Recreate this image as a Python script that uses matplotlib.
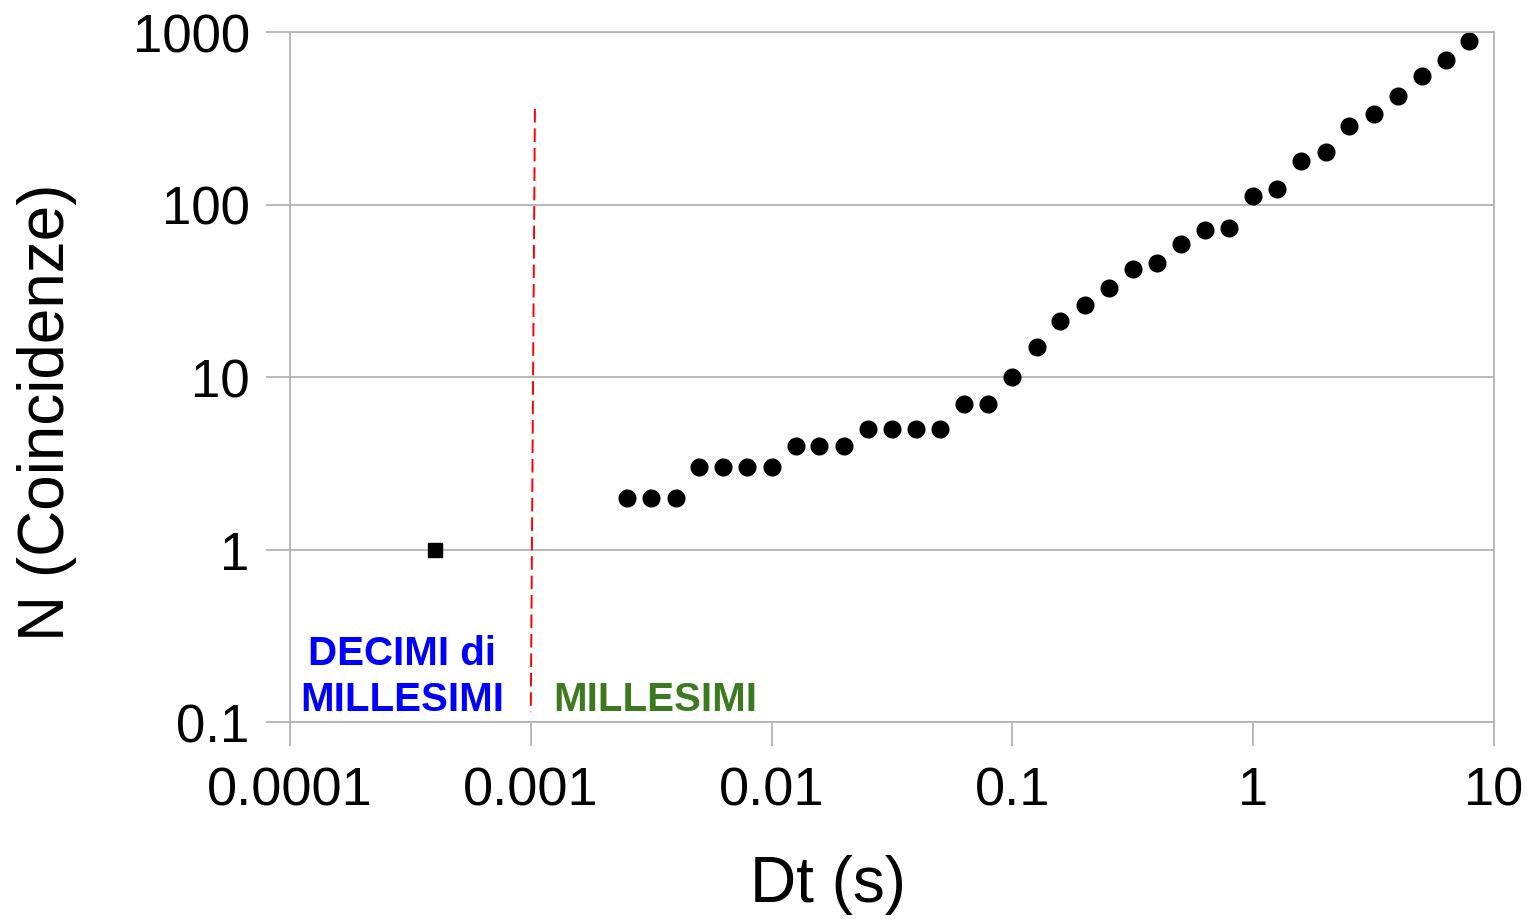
import matplotlib
matplotlib.use("Agg")
import matplotlib.pyplot as plt

# Dt (s) and cumulative coincidences
dt_values = [0.0004,
             0.0025, 0.00316, 0.004,
             0.005, 0.0063, 0.0079, 0.01,
             0.0126, 0.0158, 0.02,
             0.0251, 0.0316, 0.0398, 0.05,
             0.063, 0.079, 0.1,
             0.126, 0.158, 0.2, 0.251, 0.316, 0.398, 0.5, 0.63, 0.79,
             1.0, 1.26, 1.58, 2.0, 2.51, 3.16, 3.98, 5.0, 6.3, 7.9]
counts = [1,
          2, 2, 2,
          3, 3, 3, 3,
          4, 4, 4,
          5, 5, 5, 5,
          7, 7, 10,
          15, 21, 26, 33, 42, 46, 59, 71, 73,
          112, 123, 179, 201, 285, 335, 425, 556, 688, 887]

x_ticks = [0.0001, 0.001, 0.01, 0.1, 1, 10]
x_labels = ["0.0001", "0.001", "0.01", "0.1", "1", "10"]
y_ticks = [0.1, 1, 10, 100, 1000]
y_labels = ["0.1", "1", "10", "100", "1000"]

# separator between the two time resolutions
sep_x = [0.00104, 0.001]
sep_y = [358, 0.114]

plt.rcParams['font.family'] = ['Liberation Sans', 'DejaVu Sans']
grey = '#b3b3b3'

fig = plt.figure(figsize=(15.32, 9.2), dpi=100)
ax = fig.add_axes([290 / 1532, 1 - 723 / 920, 1204 / 1532, 690 / 920])
ax.set_xscale('log')
ax.set_yscale('log')
ax.set_xlim(0.0001, 10)
ax.set_ylim(0.1, 1000)

ax.grid(True, axis='y', color=grey, linewidth=1.3)
ax.set_axisbelow(True)
for s in ax.spines.values():
    s.set_color(grey)
    s.set_linewidth(1.3)

ax.plot(dt_values[:1], counts[:1], 's', color='black', markersize=10.5, clip_on=False)
ax.plot(dt_values[1:], counts[1:], 'o', color='black', markersize=12, clip_on=False)

ax.plot(sep_x, sep_y, color='#ff0000', linewidth=1.4, dashes=[7, 3])

ax.set_xticks(x_ticks)
ax.set_xticklabels(x_labels)
ax.set_yticks(y_ticks)
ax.set_yticklabels(y_labels)
ax.minorticks_off()
ax.tick_params(axis='both', which='major', direction='out', length=17, width=1.3,
               color=grey, labelcolor='black', pad=12)
ax.tick_params(axis='x', labelsize=39, pad=14)
ax.tick_params(axis='y', labelsize=38)

ax.set_xlabel("Dt (s)", fontsize=46)
ax.xaxis.set_label_coords(0.447, -0.192)
ax.set_ylabel("N (Coincidenze)", fontsize=46)
ax.yaxis.set_label_coords(-0.177, 0.45)

ax.text(0.000292, 0.1175, "DECIMI di\nMILLESIMI", color='#0000ff', fontsize=29,
        fontweight='bold', ha='center', va='baseline', linespacing=1.28)
ax.text(0.001236, 0.1175, "MILLESIMI", color='#3b7a1e', fontsize=29,
        fontweight='bold', ha='left', va='baseline')

fig.savefig("out.png", dpi=100)
